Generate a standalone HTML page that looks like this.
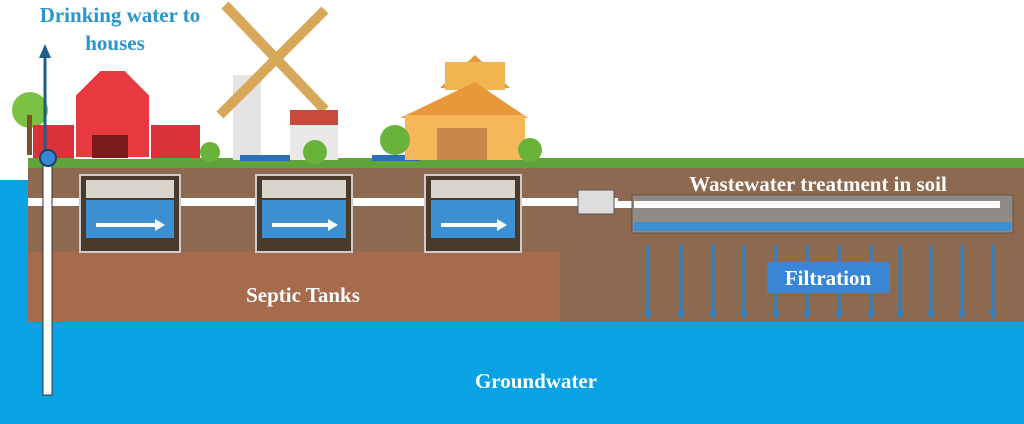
<!DOCTYPE html><html><head><style>body{margin:0;width:1024px;height:424px;overflow:hidden;background:#fff}svg{display:block}text{font-family:"Liberation Serif",serif;font-weight:bold}</style></head><body>
<svg width="1024" height="424" viewBox="0 0 1024 424">
<rect x="0" y="180" width="1024" height="244" fill="#0aa2e2"/>
<rect x="28" y="165" width="996" height="157" fill="#8d6a4f"/>
<rect x="28" y="158" width="996" height="10" fill="#5fa33a"/>
<rect x="28" y="252" width="532" height="70" fill="#a66a4c"/>
<g>
<circle cx="30" cy="110" r="18" fill="#7cc142"/><rect x="27" y="115" width="5" height="40" fill="#7a5230"/>
<rect x="33" y="125" width="42" height="33" fill="#d9323a"/><rect x="140" y="125" width="60" height="33" fill="#d9323a"/>
<polygon points="75,158 75,95 100,70 125,70 150,95 150,158" fill="#e63a40" stroke="#fff" stroke-width="2"/>
<rect x="92" y="135" width="36" height="23" fill="#7a1a1a"/>
<rect x="233" y="75" width="28" height="85" fill="#e6e3e3"/>
<line x1="225" y1="5" x2="325" y2="110" stroke="#d8a85a" stroke-width="10"/><line x1="325" y1="10" x2="220" y2="115" stroke="#d8a85a" stroke-width="10"/>
<polygon points="290,132 290,110 338,110 338,132" fill="#c94a3a"/><rect x="290" y="125" width="48" height="35" fill="#ebe8e8"/>
<rect x="240" y="155" width="50" height="6" fill="#2a6fb8"/><rect x="372" y="155" width="48" height="6" fill="#2a6fb8"/>
<polygon points="440,88 475,55 510,88" fill="#e09a40"/><rect x="445" y="62" width="60" height="28" fill="#f0b550"/>
<polygon points="400,118 475,82 528,118" fill="#e8983a"/><rect x="405" y="115" width="120" height="45" fill="#f5b757"/>
<rect x="437" y="128" width="50" height="32" fill="#c9874a"/>
<circle cx="395" cy="140" r="15" fill="#6ab33a"/><circle cx="530" cy="150" r="12" fill="#6ab33a"/><circle cx="210" cy="152" r="10" fill="#6ab33a"/><circle cx="315" cy="152" r="12" fill="#6ab33a"/>
</g>
<rect x="28" y="198" width="590" height="8" fill="#fff"/>
<rect x="614" y="201" width="386" height="7" fill="#fff"/>
<g fill="#4a3a2c" stroke="#ccc" stroke-width="2">
<rect x="80" y="175" width="100" height="77"/><rect x="256" y="175" width="96" height="77"/><rect x="425" y="175" width="96" height="77"/></g>
<g fill="#3c8fd0"><rect x="86" y="200" width="88" height="38"/><rect x="262" y="200" width="84" height="38"/><rect x="431" y="200" width="84" height="38"/></g>
<g fill="#d9d4cc"><rect x="86" y="180" width="88" height="18"/><rect x="262" y="180" width="84" height="18"/><rect x="431" y="180" width="84" height="18"/></g>
<g stroke="#fff" stroke-width="4"><line x1="96" y1="225" x2="155" y2="225"/><line x1="272" y1="225" x2="328" y2="225"/><line x1="441" y1="225" x2="497" y2="225"/></g>
<g fill="#fff"><polygon points="155,219 165,225 155,231"/><polygon points="328,219 338,225 328,231"/><polygon points="497,219 507,225 497,231"/></g>
<rect x="578" y="190" width="36" height="24" fill="#ddd" stroke="#555"/>
<rect x="632" y="195" width="381" height="38" fill="#8f8a86" stroke="#6b5040"/>
<rect x="634" y="222" width="377" height="9" fill="#3c8fd0"/>
<rect x="634" y="201" width="366" height="7" fill="#fff"/>
<g stroke="#2f7fc4" stroke-width="3">
<line x1="648" y1="245" x2="648" y2="312"/><line x1="681" y1="245" x2="681" y2="312"/><line x1="713" y1="245" x2="713" y2="312"/><line x1="744" y1="245" x2="744" y2="312"/><line x1="776" y1="245" x2="776" y2="312"/><line x1="807" y1="245" x2="807" y2="312"/><line x1="839" y1="245" x2="839" y2="312"/><line x1="871" y1="245" x2="871" y2="312"/><line x1="900" y1="245" x2="900" y2="312"/><line x1="931" y1="245" x2="931" y2="312"/><line x1="962" y1="245" x2="962" y2="312"/><line x1="993" y1="245" x2="993" y2="312"/></g>
<g fill="#2f7fc4"><polygon points="644,311 652,311 648,320"/><polygon points="677,311 685,311 681,320"/><polygon points="709,311 717,311 713,320"/><polygon points="740,311 748,311 744,320"/><polygon points="772,311 780,311 776,320"/><polygon points="803,311 811,311 807,320"/><polygon points="835,311 843,311 839,320"/><polygon points="867,311 875,311 871,320"/><polygon points="896,311 904,311 900,320"/><polygon points="927,311 935,311 931,320"/><polygon points="958,311 966,311 962,320"/><polygon points="989,311 997,311 993,320"/></g>
<rect x="767" y="262" width="123" height="31" fill="#3a86d4"/>
<rect x="43" y="160" width="9" height="235" fill="#fff" stroke="#333" stroke-width="1"/>
<line x1="45" y1="155" x2="45" y2="55" stroke="#1a5f8a" stroke-width="3"/>
<polygon points="39,58 45,44 51,58" fill="#1a5f8a"/>
<circle cx="48" cy="158" r="8" fill="#3a86d4" stroke="#1a3f6a" stroke-width="2"/>
<text x="120" y="22" font-size="21" fill="#2a95cc" text-anchor="middle">Drinking water to</text>
<text x="115" y="50" font-size="21" fill="#2a95cc" text-anchor="middle">houses</text>
<text x="303" y="302" font-size="21" fill="#fff" text-anchor="middle">Septic Tanks</text>
<text x="818" y="191" font-size="21" fill="#fff" text-anchor="middle">Wastewater treatment in soil</text>
<text x="828" y="285" font-size="21" fill="#fff" text-anchor="middle">Filtration</text>
<text x="536" y="388" font-size="21" fill="#fff" text-anchor="middle">Groundwater</text>
</svg></body></html>
